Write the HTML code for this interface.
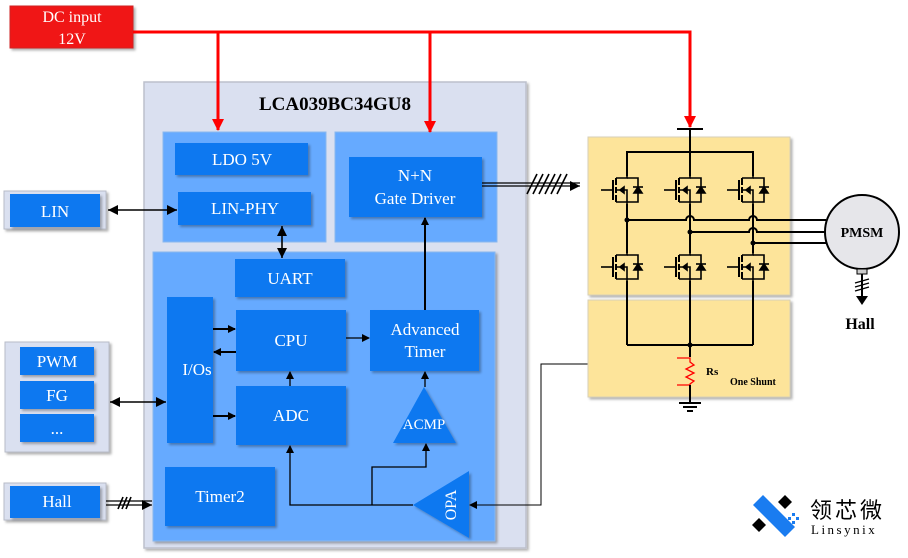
<!DOCTYPE html>
<html><head><meta charset="utf-8"><style>
html,body{margin:0;padding:0;background:#fff;}
svg{display:block;}
text{font-family:"Liberation Serif",serif;}
</style></head><body>
<svg width="908" height="558" viewBox="0 0 908 558" xmlns="http://www.w3.org/2000/svg">
<defs>
<marker id="ab" markerWidth="8" markerHeight="8" refX="7" refY="4" orient="auto" markerUnits="userSpaceOnUse"><path d="M0,0 L8,4 L0,8 z" fill="#000"/></marker>
<marker id="abs" markerWidth="10" markerHeight="10" refX="0" refY="5" orient="auto" markerUnits="userSpaceOnUse"><path d="M10,0 L0,5 L10,10 z" fill="#000"/></marker>
<marker id="abe" markerWidth="10" markerHeight="10" refX="10" refY="5" orient="auto" markerUnits="userSpaceOnUse"><path d="M0,0 L10,5 L0,10 z" fill="#000"/></marker>
<marker id="ar" markerWidth="12" markerHeight="12" refX="11" refY="6" orient="auto" markerUnits="userSpaceOnUse"><path d="M0,0 L12,6 L0,12 z" fill="#f00"/></marker>
<filter id="sh" x="-10%" y="-10%" width="130%" height="130%"><feDropShadow dx="2" dy="2" stdDeviation="1.2" flood-color="#000" flood-opacity="0.3"/></filter>
<g id="fet" fill="none" stroke="#000" stroke-width="1.6">
<line x1="-26" y1="0" x2="-15" y2="0"/>
<line x1="-14" y1="-10" x2="-14" y2="10" stroke-width="2"/>
<line x1="-11" y1="-12" x2="-11" y2="-5" stroke-width="2"/>
<line x1="-11" y1="-3" x2="-11" y2="3" stroke-width="2"/>
<line x1="-11" y1="5" x2="-11" y2="12" stroke-width="2"/>
<path d="M-11,-12 H0 V-35"/>
<path d="M-11,12 H0 V35"/>
<path d="M-11,0 H0 V12"/>
<path d="M-7,0 l4,-3 v6 z" fill="#000"/>
<path d="M0,-12 H11 V12 H0"/>
<path d="M7,3 L11,-3 L15,3 z" fill="#000"/>
<line x1="6" y1="-3" x2="16" y2="-3"/>
</g>
</defs>

<!-- Chip -->
<rect x="144" y="82" width="382" height="466" fill="#dae0f0" stroke="#bcc0cc" stroke-width="1.5" filter="url(#sh)"/>
<text x="335" y="110" font-size="19" font-weight="bold" text-anchor="middle">LCA039BC34GU8</text>
<rect x="163" y="132" width="163" height="110" fill="#66aaff" stroke="#8ab8ee"/>
<rect x="335" y="132" width="162" height="110" fill="#66aaff" stroke="#8ab8ee"/>
<rect x="153" y="252" width="342" height="289" fill="#66aaff" stroke="#8ab8ee" filter="url(#sh)"/>

<!-- DC input -->
<rect x="10" y="6" width="123" height="42" fill="#f01818" stroke="#d02020" filter="url(#sh)"/>
<text x="72" y="22" font-size="16" fill="#fff" text-anchor="middle">DC input</text>
<text x="72" y="44" font-size="16" fill="#fff" text-anchor="middle">12V</text>
<path d="M133,32 H690 V127" fill="none" stroke="#f00" stroke-width="3" marker-end="url(#ar)"/>
<line x1="218" y1="32" x2="218" y2="130" stroke="#f00" stroke-width="3" marker-end="url(#ar)"/>
<line x1="430" y1="32" x2="430" y2="132" stroke="#f00" stroke-width="3" marker-end="url(#ar)"/>
<line x1="677" y1="129" x2="703" y2="129" stroke="#000" stroke-width="2"/>

<g fill="#0a78f0" filter="url(#sh)">
<rect x="175" y="143" width="133" height="32"/>
<rect x="178" y="192" width="133" height="33"/>
<rect x="349" y="157" width="133" height="60"/>
<rect x="235" y="259" width="110" height="38"/>
<rect x="167" y="297" width="46" height="146"/>
<rect x="236" y="310" width="110" height="61"/>
<rect x="370" y="310" width="109" height="61"/>
<rect x="236" y="386" width="110" height="59"/>
<rect x="165" y="467" width="110" height="59"/>
<path d="M424,387 L456,443 L393,443 z"/>
<path d="M413,505 L469,471 L469,538 z"/>
</g>
<g font-size="17" fill="#fff" text-anchor="middle">
<text x="242" y="165">LDO 5V</text>
<text x="245" y="214">LIN-PHY</text>
<text x="415" y="181">N+N</text>
<text x="415" y="204">Gate Driver</text>
<text x="290" y="284">UART</text>
<text x="197" y="375">I/Os</text>
<text x="291" y="346">CPU</text>
<text x="425" y="335">Advanced</text>
<text x="425" y="357">Timer</text>
<text x="291" y="421">ADC</text>
<text x="220" y="502">Timer2</text>
<text x="424" y="429" font-size="15">ACMP</text>
<text transform="translate(456,505) rotate(-90)" font-size="16">OPA</text>
</g>

<!-- External left boxes -->
<rect x="4" y="191" width="102" height="38" fill="#dae0f0" stroke="#b8bcc8" filter="url(#sh)"/>
<rect x="10" y="194" width="90" height="33" fill="#0a78f0" filter="url(#sh)"/>
<text x="55" y="217" font-size="17" fill="#fff" text-anchor="middle">LIN</text>
<rect x="5" y="342" width="104" height="110" fill="#dae0f0" stroke="#b8bcc8" filter="url(#sh)"/>
<g fill="#0a78f0" filter="url(#sh)">
<rect x="20" y="347" width="74" height="28"/>
<rect x="20" y="381" width="74" height="28"/>
<rect x="20" y="414" width="74" height="28"/>
</g>
<g font-size="17" fill="#fff" text-anchor="middle">
<text x="57" y="367">PWM</text>
<text x="57" y="401">FG</text>
<text x="57" y="434">...</text>
</g>
<rect x="4" y="483" width="102" height="37" fill="#dae0f0" stroke="#b8bcc8" filter="url(#sh)"/>
<rect x="10" y="486" width="90" height="32" fill="#0a78f0" filter="url(#sh)"/>
<text x="57" y="507" font-size="17" fill="#fff" text-anchor="middle">Hall</text>

<!-- Connectors -->
<g stroke="#000" stroke-width="1.6" fill="none">
<line x1="108" y1="210" x2="177" y2="210" marker-start="url(#abs)" marker-end="url(#abe)"/>
<line x1="282" y1="226" x2="282" y2="258" marker-start="url(#abs)" marker-end="url(#abe)"/>
<line x1="110" y1="402" x2="166" y2="402" marker-start="url(#abs)" marker-end="url(#abe)"/>
<line x1="425" y1="310" x2="425" y2="218" stroke-width="2" marker-end="url(#ab)"/>
<line x1="213" y1="329" x2="235" y2="329" stroke-width="2" marker-end="url(#ab)"/>
<line x1="236" y1="352" x2="214" y2="352" stroke-width="2" marker-end="url(#ab)"/>
<line x1="213" y1="416" x2="235" y2="416" stroke-width="2" marker-end="url(#ab)"/>
<line x1="346" y1="338" x2="369" y2="338" stroke-width="1.3" marker-end="url(#ab)"/>
<line x1="290" y1="386" x2="290" y2="372" stroke-width="1.3" marker-end="url(#ab)"/>
<line x1="425" y1="387" x2="425" y2="372" stroke-width="1.3" marker-end="url(#ab)"/>
<path d="M413,505 H290 V446" stroke-width="1.3" marker-end="url(#ab)"/>
<path d="M372,505 V467 H426 V444" stroke-width="1.3" marker-end="url(#ab)"/>
<path d="M588,364 H541 V505 H470" stroke-width="1" marker-end="url(#ab)"/>
<line x1="106" y1="501" x2="152" y2="501" stroke-width="1.3"/>
<line x1="106" y1="505" x2="152" y2="505" stroke-width="1.3" marker-end="url(#abe)"/>
<line x1="118" y1="509" x2="123" y2="497"/><line x1="122" y1="509" x2="127" y2="497"/><line x1="126" y1="509" x2="131" y2="497"/>
<line x1="482" y1="183" x2="580" y2="183" stroke-width="1.3"/>
<line x1="482" y1="186" x2="580" y2="186" stroke-width="1.3" marker-end="url(#abe)"/>
<line x1="527" y1="194" x2="537" y2="174"/><line x1="533" y1="194" x2="543" y2="174"/><line x1="539" y1="194" x2="549" y2="174"/><line x1="545" y1="194" x2="555" y2="174"/><line x1="551" y1="194" x2="561" y2="174"/><line x1="557" y1="194" x2="567" y2="174"/>
</g>

<!-- Bridge -->
<rect x="588" y="137" width="202" height="158" fill="#fde49a" stroke="#d8d0b8" filter="url(#sh)"/>
<rect x="588" y="300" width="202" height="97" fill="#fde49a" stroke="#d8d0b8" filter="url(#sh)"/>
<g stroke="#000" stroke-width="2" fill="none">
<line x1="690" y1="129" x2="690" y2="152"/>
<path d="M627,155 V152 H753 V155"/>
<line x1="627" y1="152" x2="627" y2="345"/>
<line x1="690" y1="152" x2="690" y2="400"/>
<line x1="753" y1="152" x2="753" y2="345"/>
<path d="M627,345 H753"/>
<path d="M627,220 H686 a4,4 0 0 1 8,0 H749 a4,4 0 0 1 8,0 H826"/>
<path d="M690,232 H749 a4,4 0 0 1 8,0 H826"/>
<path d="M753,243 H828"/>
<line x1="679" y1="403" x2="701" y2="403"/><line x1="683" y1="407" x2="697" y2="407"/><line x1="687" y1="411" x2="693" y2="411"/>
</g>
<g fill="#000"><circle cx="627" cy="220" r="2.5"/><circle cx="690" cy="232" r="2.5"/><circle cx="753" cy="243" r="2.5"/><circle cx="690" cy="345" r="2.5"/></g>
<g fill="#fde49a"><rect x="617" y="176" width="36" height="28"/><rect x="680" y="176" width="36" height="28"/><rect x="743" y="176" width="36" height="28"/>
<rect x="617" y="253" width="36" height="28"/><rect x="680" y="253" width="36" height="28"/><rect x="743" y="253" width="36" height="28"/></g>
<use href="#fet" x="627" y="190"/><use href="#fet" x="690" y="190"/><use href="#fet" x="753" y="190"/>
<use href="#fet" x="627" y="267"/><use href="#fet" x="690" y="267"/><use href="#fet" x="753" y="267"/>
<rect x="683" y="357" width="14" height="30" fill="#fde49a"/>
<path d="M677,358 H690 L690,362 l4,3 l-8,4 l8,4 l-8,4 l8,4 l-4,3 V385 H677" fill="none" stroke="#f00" stroke-width="1.3"/>
<line x1="690" y1="385" x2="690" y2="403" stroke="#000" stroke-width="2"/>
<text x="706" y="375" font-size="11" font-weight="bold">Rs</text>
<text x="730" y="385" font-size="10" font-weight="bold">One Shunt</text>

<!-- Motor -->
<circle cx="862" cy="232" r="37" fill="#e6e6ea" stroke="#000" stroke-width="2"/>
<text x="862" y="237" font-size="14" font-weight="bold" text-anchor="middle">PMSM</text>
<rect x="857" y="269" width="10" height="5" fill="#ccc" stroke="#000"/>
<line x1="862" y1="274" x2="862" y2="296" stroke="#000" stroke-width="2"/>
<path d="M856,296 L868,296 L862,305 z" fill="#000"/>
<g stroke="#000" stroke-width="1.3"><line x1="855" y1="283" x2="869" y2="279"/><line x1="855" y1="287" x2="869" y2="283"/><line x1="855" y1="291" x2="869" y2="287"/></g>
<text x="860" y="329" font-size="16" font-weight="bold" text-anchor="middle">Hall</text>

<!-- Logo -->
<path d="M753,505 L763,495 L795,527 L785,537 z" fill="#1a7cf0"/>
<path d="M778,502 L785,495 L792,502 L785,509 z" fill="#000"/>
<path d="M752,525 L759,518 L766,525 L759,532 z" fill="#000"/>
<g fill="#1a7cf0"><rect x="792" y="513" width="3" height="3"/><rect x="796" y="517" width="3" height="3"/><rect x="792" y="521" width="3" height="3"/><rect x="788" y="517" width="3" height="3"/></g>
<text x="810" y="518" font-size="22" font-family="'Noto Sans CJK SC',sans-serif" letter-spacing="3">领芯微</text>
<text x="811" y="534" font-size="13" font-family="'Liberation Sans',sans-serif" letter-spacing="2.5">Linsynix</text>
</svg>
</body></html>
